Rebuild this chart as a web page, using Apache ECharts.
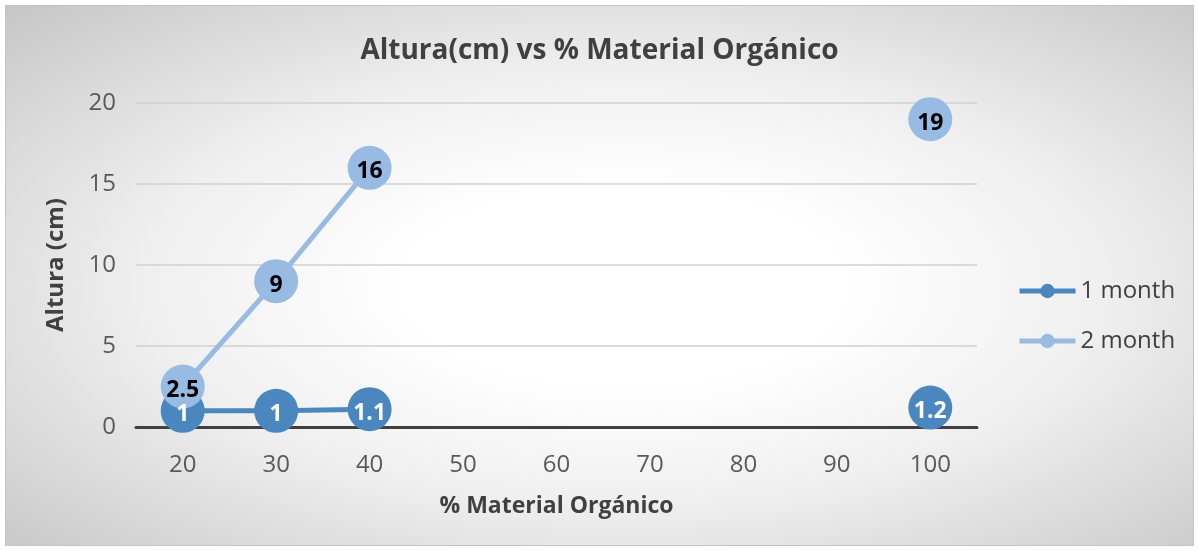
<!DOCTYPE html>
<html>
<head>
<meta charset="utf-8">
<script src="https://cdn.jsdelivr.net/npm/echarts@6/dist/echarts.min.js"></script>
<style>
  html, body { margin: 0; padding: 0; background: #fff; }
  #chart {
    position: absolute; left: 5px; top: 5px;
    width: 1187px; height: 539px;
    border: 1px solid #c4c4c4;
    background: radial-gradient(ellipse at 52% 52%, #ffffff 25%, #efefef 55%, #c6c6c6 100%);
  }
</style>
</head>
<body>
<div id="chart"></div>
<script>
// datos
var categorias = ['20', '30', '40', '50', '60', '70', '80', '90', '100'];
var mes1 = [1, 1, 1.1, null, null, null, null, null, 1.2];
var mes2 = [2.5, 9, 16, null, null, null, null, null, 19];

var fuente = '"Open Sans", "Noto Sans", sans-serif';

var option = {
    backgroundColor: 'transparent',
    title: {
        text: 'Altura(cm) vs % Material Orgánico',
        left: 'center',
        top: 26,
        textStyle: { fontFamily: fuente, fontSize: 28, fontWeight: 'bold', color: '#404040' }
    },
    legend: {
        orient: 'vertical',
        left: 1006,
        top: 268,
        itemGap: 26,
        itemWidth: 56,
        itemHeight: 18,
        lineStyle: { width: 5 },
        textStyle: { fontFamily: fuente, fontSize: 24, color: '#404040' },
        data: ['1 month', '2 month']
    },
    grid: { left: 130, right: 216, top: 97, bottom: 118 },
    xAxis: {
        type: 'category',
        data: categorias,
        boundaryGap: true,
        name: '% Material Orgánico',
        nameLocation: 'middle',
        nameGap: 68,
        nameTextStyle: { fontFamily: fuente, fontSize: 23, fontWeight: 'bold', color: '#404040' },
        axisLine: { lineStyle: { color: '#404040', width: 3 } },
        axisTick: { show: false },
        axisLabel: { fontFamily: fuente, fontSize: 24, color: '#595959', margin: 26 }
    },
    yAxis: {
        type: 'value',
        min: 0,
        max: 20,
        interval: 5,
        name: 'Altura (cm)',
        nameLocation: 'middle',
        nameGap: 68,
        nameTextStyle: { fontFamily: fuente, fontSize: 24, fontWeight: 'bold', color: '#404040' },
        axisLine: { show: false },
        axisTick: { show: false },
        axisLabel: { fontFamily: fuente, fontSize: 24, color: '#595959', margin: 20 },
        splitLine: { lineStyle: { color: '#d0d0d0', width: 1.5 } }
    },
    series: [{
        name: '1 month',
        type: 'line',
        data: mes1,
        connectNulls: false,
        symbol: 'circle',
        symbolSize: 44,
        itemStyle: { color: '#4a87bf' },
        lineStyle: { color: '#4a87bf', width: 5 },
        label: {
            show: true,
            position: 'inside',
            offset: [0, 4],
            fontFamily: fuente,
            fontSize: 23,
            fontWeight: 'bold',
            color: '#ffffff'
        }
    }, {
        name: '2 month',
        type: 'line',
        data: mes2,
        connectNulls: false,
        symbol: 'circle',
        symbolSize: 44,
        itemStyle: { color: '#98bbe3' },
        lineStyle: { color: '#98bbe3', width: 5 },
        label: {
            show: true,
            position: 'inside',
            offset: [0, 4],
            fontFamily: fuente,
            fontSize: 23,
            fontWeight: 'bold',
            color: '#000000'
        }
    }]
};

var myChart = echarts.init(document.getElementById('chart'));
myChart.setOption(option, true);
</script>
</body>
</html>
